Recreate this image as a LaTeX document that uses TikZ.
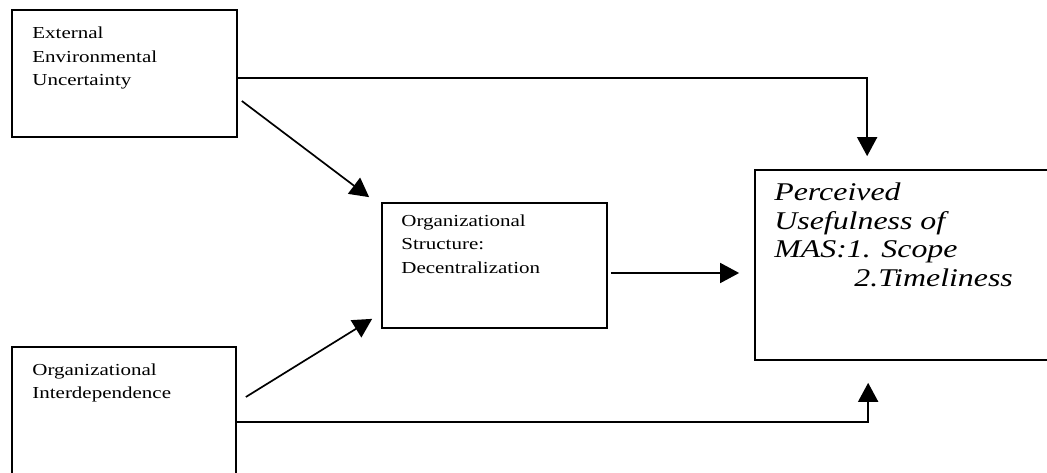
\documentclass[tikz,border=0pt]{standalone}
\usepackage{fontspec}
\setmainfont{Liberation Serif}[FakeStretch=1.25]
\usetikzlibrary{arrows.meta}
\tikzset{
  box/.style={draw, line width=1.7pt, inner sep=0pt},
  label/.style={anchor=north west, inner sep=0pt, align=left,
                font=\fontsize{16.8}{23.5}\selectfont},
  biglabel/.style={anchor=north west, inner sep=0pt, align=left,
                   font=\fontsize{25.5}{28.5}\selectfont\itshape},
  arr/.style={line width=1.7pt, -{Triangle[length=19pt,width=20pt]}}
}
\begin{document}
\begin{tikzpicture}[x=1pt,y=-1pt]
  \useasboundingbox (0,0) rectangle (1047,473);
  \clip (0,0) rectangle (1047,473);
  \fill[white] (0,0) rectangle (1047,473);

  % boxes
  \node[box, minimum width=225pt, minimum height=127pt] (A) at (124.5,73.5) {};
  \node[box, minimum width=224pt, minimum height=150pt] (B) at (124,422) {};
  \node[box, minimum width=225pt, minimum height=125pt] (C) at (494.5,265.5) {};
  \node[box, minimum width=305pt, minimum height=190pt] (D) at (907.5,265) {};

  % box texts
  \node[label] (tA) at ([xshift=21pt,yshift=-17.8pt]A.north west)
    {External\\Environmental\\Uncertainty};
  \node[label] (tB) at ([xshift=21pt,yshift=-17.4pt]B.north west)
    {Organizational\\Interdependence};
  \node[label] (tC) at ([xshift=20pt,yshift=-12.4pt]C.north west)
    {Organizational\\Structure:\\Decentralization};
  \node[biglabel] (tD) at ([xshift=20pt,yshift=-13.5pt]D.north west)
    {Perceived\\Usefulness of\\MAS:1. Scope\\\hspace*{80pt}2.Timeliness};

  % connectors
  \draw[arr, shorten >=13pt] ([yshift=-4.5pt]A.east) -| ([xshift=113pt]D.north west);
  \draw[arr, shorten >=22pt] (B.east) -| ([xshift=114pt]D.south west);
  \draw[arr] ([xshift=4pt,yshift=-27.5pt]A.east) -- ([xshift=-12pt,yshift=5pt]C.north west);
  \draw[arr] ([xshift=9pt,yshift=25pt]B.east) -- ([xshift=-9pt,yshift=10pt]C.south west);
  \draw[arr, shorten >=15pt] ([xshift=3pt,yshift=-7.5pt]C.east) -- ([yshift=-8pt]D.west);
\end{tikzpicture}
\end{document}
